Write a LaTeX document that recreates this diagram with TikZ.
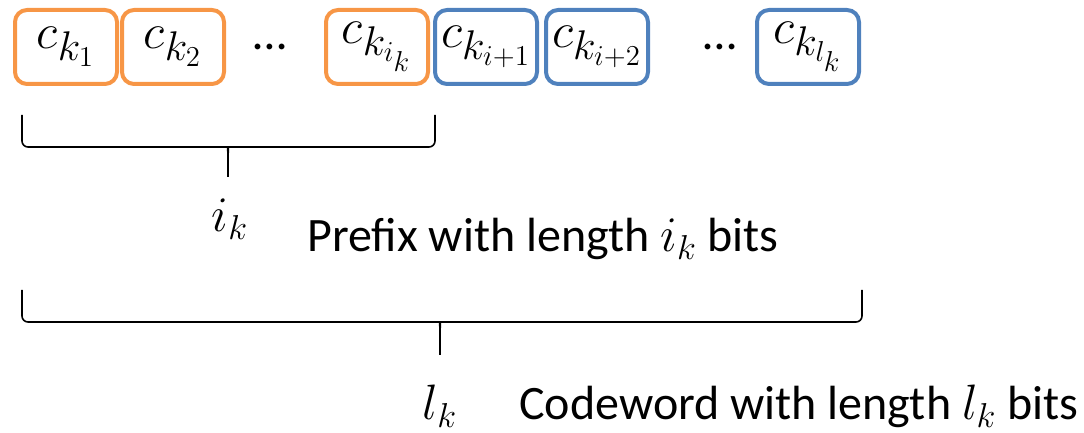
\documentclass[tikz,border=0pt]{standalone}
\usepackage{amsmath}
\usepackage{fontspec}
\setmainfont{Carlito}
\definecolor{prefixorange}{RGB}{247,150,70}
\definecolor{codeblue}{RGB}{79,129,189}
\tikzset{
  bit/.style={draw, rounded corners=6pt, line width=2pt, minimum width=51pt, minimum height=37pt, inner sep=0pt, font=\fontsize{30}{34}\selectfont},
  prefixbit/.style={bit, draw=prefixorange},
  codebit/.style={bit, draw=codeblue},
  dots/.style={font=\fontsize{24}{28}\selectfont},
  lbl/.style={font=\fontsize{24}{28}\selectfont, anchor=base west, inner sep=0pt},
  mlbl/.style={font=\fontsize{27}{30}\selectfont, anchor=base, inner sep=0pt},
  brc/.style={line width=0.8pt, rounded corners=3pt}
}

\begin{document}
\begin{tikzpicture}[x=0.5pt,y=0.5pt]
\useasboundingbox (0,0) rectangle (1084,433);
% the codeword bits
\node[prefixbit] (b1) at (66,386) {$c_{k_1}$};
\node[prefixbit] (b2) at (173,386) {$c_{k_2}$};
\node[dots] (d1) at (270,386) {\dots};
\node[prefixbit] (bi) at (377,386) {$c_{k_{i_k}}$};
\node[codebit] (bi1) at (486,386) {$c_{k_{i+1}}$};
\node[codebit] (bi2) at (597,386) {$c_{k_{i+2}}$};
\node[dots] (d2) at (720,386) {\dots};
\node[codebit] (bl) at (808,386) {$c_{k_{l_k}}$};
% braces
\draw[brc] (22,318) -- (22,286) -- (222,286) to[out=0,in=90] (228,274) -- (228,256);
\draw[brc] (435,318) -- (435,286) -- (234,286) to[out=180,in=90] (228,274);
\draw[brc] (22,143) -- (22,111) -- (434,111) to[out=0,in=90] (440,99) -- (440,78);
\draw[brc] (862,143) -- (862,111) -- (446,111) to[out=180,in=90] (440,99);
% labels
\node[mlbl] (ik) at (230,201) {$i_k$};
\node[lbl] (prefix) at (307,181) {Prefix with length $i_k$ bits};
\node[mlbl] (lk) at (440,13) {$l_k$};
\node[lbl] (codeword) at (519,13) {Codeword with length $l_k$ bits};
\end{tikzpicture}
\end{document}
